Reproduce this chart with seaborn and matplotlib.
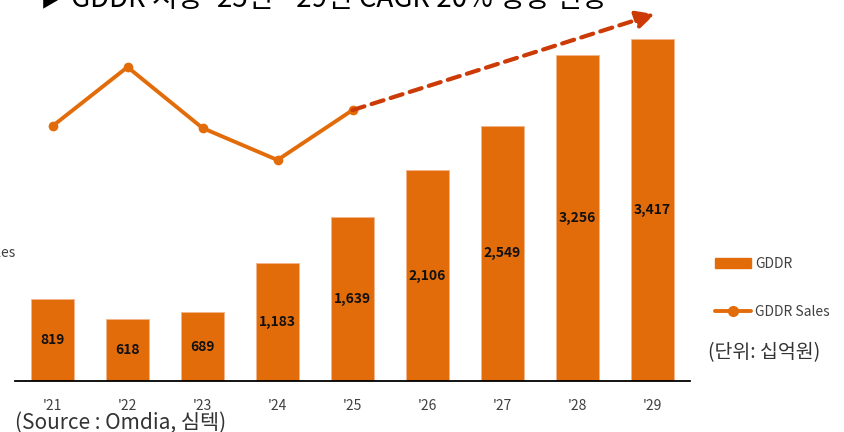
import numpy as np
import matplotlib
matplotlib.use("Agg")
import matplotlib.pyplot as plt
import seaborn as sns
from matplotlib.patches import Patch
from matplotlib.lines import Line2D

# data
years = ["'21", "'22", "'23", "'24", "'25", "'26", "'27", "'28", "'29"]
gddr = [819, 618, 689, 1183, 1639, 2106, 2549, 3256, 3417]
# sales line has no axis in the picture, read as a relative index (0-100)
sales_years = ["'21", "'22", "'23", "'24", "'25"]
sales = [66.9, 82.4, 66.4, 58.0, 71.1]
arrow_end = 96.3

title = "GDDR 시장 '25년~'29년 CAGR 20% 성장 전망"
unit_text = "(단위: 십억원)"
source_text = "(Source : Omdia, 심텍)"

orange = "#E36C0A"
arrow_red = "#CC3A06"

sns.set_theme(style="white")
plt.rcParams['font.family'] = ['Noto Sans CJK KR', 'DejaVu Sans']

fig = plt.figure(figsize=(8.44, 4.32), dpi=100)
ax = fig.add_axes([15 / 844, 1 - 381 / 432, 675 / 844, 381 / 432])

sns.barplot(x=years, y=gddr, color=orange, width=0.57, saturation=1,
            edgecolor="#F3B58A", linewidth=0.6, ax=ax)
ax.set_xlim(-0.5, len(years) - 0.5)
ax.set_ylim(0, 3806)

for i, v in enumerate(gddr):
    ax.text(i, v / 2, f"{v:,}", ha="center", va="center",
            fontsize=10, fontweight="bold", color="#111111")

for s in ["top", "right", "left"]:
    ax.spines[s].set_visible(False)
ax.spines["bottom"].set_color("black")
ax.spines["bottom"].set_linewidth(1.3)
ax.set_yticks([])
ax.set_xlabel("")
ax.set_ylabel("")
ax.tick_params(axis="x", length=0, pad=13, labelsize=10, labelcolor="#404040")

# sales line on its own hidden scale
ax2 = ax.twinx()
ax2.set_ylim(0, 100)
ax2.set_yticks([])
for s in ax2.spines.values():
    s.set_visible(False)
xpos = np.arange(len(sales_years))
sns.lineplot(x=xpos, y=sales, color=orange, linewidth=2.8, marker="o",
             markersize=7, markeredgewidth=0, ax=ax2)
ax2.set_xlim(-0.5, len(years) - 0.5)

ax2.annotate("", xy=(8.03, arrow_end), xytext=(xpos[-1], sales[-1]),
             arrowprops=dict(arrowstyle="-|>,head_length=0.9,head_width=0.45",
                             color=arrow_red, lw=3, linestyle=(0, (3, 1.8)),
                             shrinkA=0, shrinkB=0))

# legend on the right
handles = [Patch(facecolor=orange, edgecolor=orange),
           Line2D([0], [0], color=orange, lw=2.8, marker="o", markersize=7)]
leg = fig.legend(handles, ["GDDR", "GDDR Sales"], loc="upper left",
                 bbox_to_anchor=(702 / 844, 1 - 244 / 432), frameon=False,
                 fontsize=10, labelspacing=2.5, handlelength=2.6,
                 handletextpad=0.3)
for t in leg.get_texts():
    t.set_color("#404040")

fig.text(708 / 844, 1 - 353 / 432, unit_text, fontsize=14, color="#333333",
         va="center")
fig.text(15 / 844, 1 - 423 / 432, source_text, fontsize=15, color="#333333",
         va="center")
fig.text(16 / 844, 1 - 253 / 432, "Sales", fontsize=10, color="#404040",
         ha="right", va="center")
fig.text(41 / 844, 1 - 6 / 432, "▶", fontsize=13, color="black",
         va="baseline")
fig.text(71 / 844, 1 - 7 / 432, title, fontsize=20, color="black",
         va="baseline")

fig.savefig("out.png", dpi=100)
